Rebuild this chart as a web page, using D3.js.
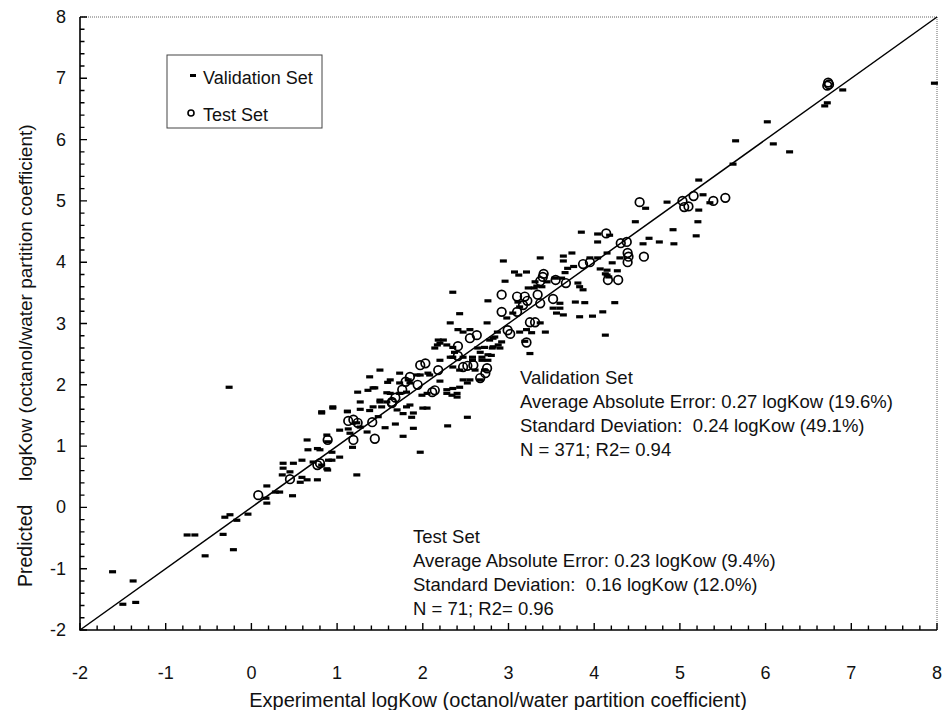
<!DOCTYPE html>
<html><head><meta charset="utf-8">
<script src="https://cdn.jsdelivr.net/npm/d3@7/dist/d3.min.js"></script>
<style>body{margin:0;background:#fff}svg{display:block}text{font-family:"Liberation Sans",Arial,sans-serif;fill:#111}</style>
</head><body><svg id="c" width="943" height="710"></svg>
<script>
const validationX = [-1.62,-1.38,-1.5,-1.35,-0.75,-0.66,-0.33,-0.54,-0.21,-0.31,-0.25,-0.17,-0.04,-0.26,0.18,0.17,0.18,0.28,0.33,0.48,0.65,0.37,0.49,0.59,0.37,0.45,0.36,0.59,0.65,0.77,0.57,0.72,0.82,0.89,0.9,1.03,1.23,0.66,0.8,0.88,0.89,1.03,1.15,1.35,1.27,1.18,0.82,0.95,1.12,1.27,1.44,1.58,1.24,1.48,1.56,1.38,1.68,1.77,1.89,1.87,1.77,1.97,1.81,2.0,2.05,1.5,1.42,1.5,1.38,1.42,1.62,1.73,1.83,1.97,2.08,2.28,2.34,2.4,2.43,2.52,2.29,2.18,2.14,2.28,2.2,2.35,2.35,2.43,2.47,2.52,2.58,2.69,2.76,2.82,2.88,2.32,2.41,2.55,2.47,2.75,2.2,2.35,2.76,2.43,2.87,2.84,2.78,2.64,2.81,2.94,3.37,3.07,3.21,3.12,2.96,3.3,3.39,3.45,3.62,3.31,3.33,3.23,3.81,3.83,3.87,4.13,4.27,3.78,3.89,4.1,3.98,3.83,4.24,3.6,3.6,3.52,3.56,3.64,3.11,3.13,3.05,2.98,3.37,3.43,3.13,3.21,3.27,4.13,3.19,3.25,3.64,3.74,3.64,3.76,3.69,3.66,4.04,4.15,4.21,4.3,3.85,4.04,4.18,4.04,4.64,4.76,4.93,4.57,4.48,4.92,5.19,5.21,5.22,5.27,5.35,4.85,4.6,5.22,5.62,5.65,6.09,6.28,6.02,6.69,6.72,6.9,7.97,1.36,1.27,1.5,1.59,1.62,1.73,1.73,1.81,1.85,1.93,2.06,1.99,2.05,2.2,2.28,2.35,2.4,2.82,2.92,2.9,2.72,2.67,2.8,2.24,2.17,2.35,2.37,2.32,2.47,2.58,2.61,2.55,2.67,2.69,2.76,2.72,0.82,0.95,1.12,1.52,1.58,1.7,1.85,1.89,0.94,0.77,0.94,0.88,1.13,1.23,3.95,4.07,4.15,4.15,4.17,3.54];
const validationY = [-1.05,-1.2,-1.58,-1.55,-0.45,-0.45,-0.44,-0.79,-0.69,-0.16,-0.12,-0.21,-0.11,1.96,0.35,0.15,0.07,0.25,0.25,0.19,1.1,0.72,0.72,0.77,0.64,0.58,0.53,0.49,0.45,0.45,0.41,0.74,0.69,0.61,0.77,0.82,0.53,0.94,0.94,1.18,1.07,1.26,1.21,1.23,1.31,0.98,1.54,1.64,1.57,1.6,1.95,1.87,1.88,1.48,1.3,1.58,1.36,1.16,1.29,1.47,1.53,0.9,1.64,1.62,1.62,1.75,1.64,2.24,2.13,1.95,2.08,2.03,2.08,2.16,2.16,1.92,1.83,1.8,1.96,1.47,1.33,2.73,2.6,2.65,2.4,2.45,2.29,2.24,2.08,2.03,2.4,2.4,2.49,2.62,2.65,3.01,2.9,2.9,2.86,3.01,2.68,3.51,3.37,3.16,2.86,2.78,2.73,2.6,2.6,4.02,4.07,3.84,3.84,3.79,3.69,3.58,3.6,3.68,3.74,3.68,3.61,3.58,3.66,3.6,3.55,3.81,3.86,3.35,3.34,3.19,3.12,3.11,3.34,3.33,3.25,3.25,3.17,3.14,3.35,3.27,3.17,3.09,3.01,2.86,2.86,2.9,2.85,2.81,2.71,2.51,4.1,4.15,4.02,3.93,3.9,3.83,4.07,4.15,3.99,4.07,4.49,4.46,4.44,4.33,4.39,4.33,4.3,4.3,4.66,4.53,4.43,4.66,4.85,5.1,4.97,4.98,4.88,5.34,5.6,5.98,5.93,5.8,6.29,6.55,6.6,6.81,6.92,1.91,1.72,1.72,2.04,1.86,2.19,1.86,1.88,2.03,2.16,2.19,1.83,1.86,2.06,1.86,1.94,1.86,2.76,2.7,2.6,2.61,2.53,2.48,2.73,2.65,2.61,2.53,2.45,2.45,2.45,2.24,2.08,2.08,2.45,2.4,2.24,1.56,1.62,1.56,1.64,1.72,1.59,1.67,1.54,0.9,0.96,0.77,0.63,1.28,1.38,4.07,3.89,3.87,3.79,3.76,3.74];
const testX = [0.08,0.45,0.77,0.8,1.13,1.41,1.64,1.19,1.44,1.19,1.24,1.97,2.03,2.18,1.85,1.8,1.94,2.11,2.14,1.76,1.68,1.64,2.47,2.55,2.63,2.41,2.41,2.52,2.59,2.67,2.75,2.73,2.92,3.1,3.19,3.34,3.4,3.37,3.55,3.67,2.92,3.1,3.17,3.22,3.37,3.52,3.25,3.31,2.99,3.02,3.21,4.16,4.28,3.87,3.95,3.41,4.39,4.4,4.39,4.58,4.31,4.38,4.14,4.53,5.03,5.05,5.1,5.16,5.39,5.53,6.73,6.74,6.72,0.89];
const testY = [0.2,0.46,0.69,0.72,1.41,1.39,1.7,1.1,1.12,1.43,1.38,2.32,2.35,2.24,2.13,2.05,2.0,1.88,1.91,1.92,1.79,1.72,2.29,2.76,2.81,2.63,2.47,2.31,2.32,2.11,2.27,2.19,3.47,3.44,3.44,3.47,3.76,3.69,3.71,3.66,3.19,3.19,3.3,3.37,3.33,3.4,3.02,3.02,2.89,2.83,2.69,3.71,3.71,3.97,4.0,3.81,4.15,4.09,4.0,4.09,4.31,4.33,4.47,4.98,5.0,4.9,4.91,5.08,5.0,5.05,6.93,6.9,6.88,1.1];
const xTicks = [-2,-1,0,1,2,3,4,5,6,7,8];
const yTicks = [-2,-1,0,1,2,3,4,5,6,7,8];
const minorTicks = [-1.8,-1.6,-1.4,-1.2,-0.8,-0.6,-0.4,-0.2,0.2,0.4,0.6,0.8,1.2,1.4,1.6,1.8,2.2,2.4,2.6,2.8,3.2,3.4,3.6,3.8,4.2,4.4,4.6,4.8,5.2,5.4,5.6,5.8,6.2,6.4,6.6,6.8,7.2,7.4,7.6,7.8];
const legendLabels = ["Validation Set","Test Set"];
const validationNotes = ["Validation Set","Average Absolute Error: 0.27 logKow (19.6%)","Standard Deviation:  0.24 logKow (49.1%)","N = 371; R2= 0.94"];
const testNotes = ["Test Set","Average Absolute Error: 0.23 logKow (9.4%)","Standard Deviation:  0.16 logKow (12.0%)","N = 71; R2= 0.96"];

const svg = d3.select("#c");
const L=80,R=937,T=17,B=630;
const x = d3.scaleLinear().domain([-2,8]).range([L,R]);
const y = d3.scaleLinear().domain([-2,8]).range([B,T]);

svg.append("line").attr("x1",L).attr("x2",R).attr("y1",T).attr("y2",T).attr("stroke","#666").attr("stroke-width",1).attr("stroke-dasharray","1,1");
svg.append("line").attr("x1",R).attr("x2",R).attr("y1",T).attr("y2",B).attr("stroke","#666").attr("stroke-width",1).attr("stroke-dasharray","1,1");

let tp = "";
minorTicks.forEach(v=>{ tp += `M${x(v)},${B}V${B-4.5}M${L},${y(v)}H${L+4.5}`; });
xTicks.forEach(v=>{ tp += `M${x(v)},${B}V${B-7}`; });
yTicks.forEach(v=>{ tp += `M${L},${y(v)}H${L+7}`; });
svg.append("path").attr("d",tp).attr("fill","none").attr("stroke","#000").attr("stroke-width",1.4);
svg.append("path").attr("d",`M${L},${T}V${B}H${R}`).attr("fill","none").attr("stroke","#000").attr("stroke-width",1.6);

xTicks.forEach(v=>svg.append("text").attr("x",x(v)).attr("y",679).attr("text-anchor","middle").attr("font-size",18).text(v));
yTicks.forEach(v=>svg.append("text").attr("x",66).attr("y",y(v)+6).attr("text-anchor","end").attr("font-size",18).text(v));

svg.append("line").attr("x1",x(-2)).attr("y1",y(-2)).attr("x2",x(8)).attr("y2",y(8)).attr("stroke","#000").attr("stroke-width",1.5);

svg.append("g").selectAll("rect").data(validationX.map((v,i)=>[v,validationY[i]])).join("rect")
  .attr("x",d=>x(d[0])-3.5).attr("y",d=>y(d[1])-1.6).attr("width",7).attr("height",3.2).attr("fill","#000");
svg.append("g").selectAll("circle").data(testX.map((v,i)=>[v,testY[i]])).join("circle")
  .attr("cx",d=>x(d[0])).attr("cy",d=>y(d[1])).attr("r",4.3).attr("fill","none").attr("stroke","#000").attr("stroke-width",1.7);

svg.append("rect").attr("x",167).attr("y",55).attr("width",155).attr("height",73).attr("fill","#fff").attr("stroke","#444").attr("stroke-width",1);
svg.append("rect").attr("x",190).attr("y",74).attr("width",6).attr("height",3).attr("fill","#000");
svg.append("circle").attr("cx",191).attr("cy",113).attr("r",3).attr("fill","none").attr("stroke","#000").attr("stroke-width",1.6);
svg.append("text").attr("x",203).attr("y",84).attr("font-size",18).text(legendLabels[0]);
svg.append("text").attr("x",203).attr("y",121).attr("font-size",18).text(legendLabels[1]);

validationNotes.forEach((t,i)=>svg.append("text").attr("x",520).attr("y",384+i*24).attr("font-size",18.5).style("white-space","pre").text(t));
testNotes.forEach((t,i)=>svg.append("text").attr("x",413).attr("y",543+i*24).attr("font-size",18.5).style("white-space","pre").text(t));

svg.append("text").attr("x",498).attr("y",707).attr("text-anchor","middle").attr("font-size",20).text("Experimental logKow (octanol/water partition coefficient)");
svg.append("text").attr("transform","translate(32,587) rotate(-90)").attr("font-size",19.5).text("Predicted");
svg.append("text").attr("transform","translate(32,481) rotate(-90)").attr("font-size",19).text("logKow (octanol/water partition coefficient)");
</script></body></html>
